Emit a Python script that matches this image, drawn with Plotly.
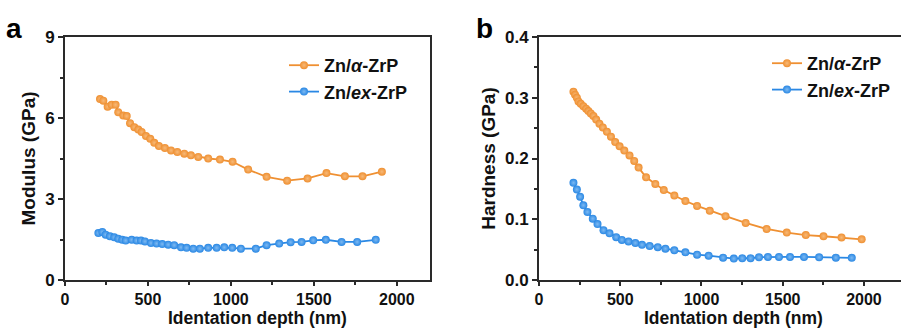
import plotly.graph_objects as go

# Panel a: Modulus
mod_alpha_x = [211, 231, 257, 281, 305, 321, 351, 372, 392, 418, 442, 462, 488, 514, 538, 566, 602, 639,
               677, 719, 759, 803, 863, 934, 1010, 1104, 1215, 1339, 1462, 1576, 1687, 1793, 1910]
mod_alpha_y = [6.70, 6.64, 6.42, 6.49, 6.49, 6.21, 6.09, 6.07, 5.81, 5.66, 5.57, 5.48, 5.33, 5.23, 5.08, 4.96,
               4.89, 4.80, 4.74, 4.68, 4.62, 4.56, 4.50, 4.46, 4.38, 4.09, 3.82, 3.68, 3.76, 3.96, 3.84, 3.84, 4.01]
mod_ex_x = [201, 225, 245, 271, 297, 321, 345, 366, 402, 432, 458, 482, 518, 552, 586, 622, 658, 699, 733,
            773, 813, 863, 914, 960, 1008, 1060, 1150, 1215, 1291, 1360, 1426, 1496, 1572, 1667, 1761, 1873]
mod_ex_y = [1.74, 1.78, 1.68, 1.62, 1.58, 1.53, 1.49, 1.46, 1.49, 1.46, 1.46, 1.43, 1.37, 1.35, 1.33, 1.31,
            1.29, 1.21, 1.19, 1.16, 1.16, 1.19, 1.19, 1.21, 1.19, 1.16, 1.16, 1.29, 1.35, 1.40, 1.41, 1.47,
            1.49, 1.41, 1.41, 1.49]

# Panel b: Hardness
hard_alpha_x = [212, 222, 233, 243, 257, 273, 290, 304, 319, 335, 352, 372, 393, 418, 443, 469, 496, 525,
                557, 586, 613, 659, 716, 768, 833, 901, 973, 1051, 1148, 1272, 1401, 1525, 1642, 1751, 1862, 1986]
hard_alpha_y = [0.310, 0.305, 0.300, 0.294, 0.290, 0.286, 0.282, 0.278, 0.274, 0.270, 0.264, 0.257, 0.251,
                0.244, 0.236, 0.227, 0.220, 0.213, 0.205, 0.196, 0.185, 0.169, 0.158, 0.148, 0.139, 0.130,
                0.122, 0.114, 0.105, 0.094, 0.084, 0.078, 0.074, 0.072, 0.070, 0.067]
hard_ex_x = [212, 233, 253, 273, 298, 331, 360, 397, 434, 475, 510, 551, 593, 634, 681, 731, 778, 833, 901,
             973, 1044, 1133, 1199, 1251, 1302, 1354, 1409, 1477, 1545, 1631, 1724, 1827, 1925]
hard_ex_y = [0.160, 0.149, 0.137, 0.123, 0.112, 0.101, 0.092, 0.082, 0.077, 0.0705, 0.066, 0.0635, 0.061,
             0.058, 0.056, 0.054, 0.0515, 0.049, 0.0456, 0.0417, 0.040, 0.0368, 0.0352, 0.0358, 0.0358,
             0.0375, 0.038, 0.038, 0.038, 0.038, 0.0375, 0.0368, 0.0365]

x_ticks = [0, 500, 1000, 1500, 2000]
mod_ticks = [0, 3, 6, 9]
hard_ticks = [0.0, 0.1, 0.2, 0.3, 0.4]
hard_tick_labels = ["0.0", "0.1", "0.2", "0.3", "0.4"]
x_title = "Identation depth (nm)"

ORANGE = "#EF9032"
BLUE = "#2A88E4"
FONT = "Liberation Sans, Arial, sans-serif"
AX = "#2a2a2a"

fig = go.Figure()


def add(x, y, color, light, name, xa, ya, legend):
    fig.add_trace(go.Scatter(
        x=x, y=y, mode="lines+markers", name=name, xaxis=xa, yaxis=ya, legend=legend,
        line=dict(color=color, width=1.8),
        marker=dict(size=8, color=color, line=dict(width=0),
                    gradient=dict(type="radial", color=light)),
    ))


add(mod_alpha_x, mod_alpha_y, ORANGE, "#F7B978", "Zn/<i>α</i>-ZrP", "x", "y", "legend")
add(mod_ex_x, mod_ex_y, BLUE, "#7DB9F2", "Zn/<i>ex</i>-ZrP", "x", "y", "legend")
add(hard_alpha_x, hard_alpha_y, ORANGE, "#F7B978", "Zn/<i>α</i>-ZrP", "x2", "y2", "legend2")
add(hard_ex_x, hard_ex_y, BLUE, "#7DB9F2", "Zn/<i>ex</i>-ZrP", "x2", "y2", "legend2")

tickfont = dict(family=FONT, size=17, color="#111", weight="bold")
xtickfont = dict(family=FONT, size=16, color="#111", weight="bold")
ytitlefont = dict(family=FONT, size=19, color="#111", weight="bold")
xtitlefont = dict(family=FONT, size=17.5, color="#111", weight="bold")

common_x = dict(
    showline=True, linecolor=AX, linewidth=2, ticks="outside", ticklen=4, tickwidth=1.5, tickcolor=AX,
    tickvals=x_ticks, showgrid=False, zeroline=False, tickfont=xtickfont, automargin=False,
    minor=dict(ticks="outside", ticklen=3, tickwidth=1.5, tickcolor=AX, dtick=250, showgrid=False),
)
common_y = dict(
    showline=True, linecolor=AX, linewidth=2, ticks="outside", ticklen=5, tickwidth=1.5, tickcolor=AX,
    showgrid=False, zeroline=False, tickfont=tickfont, automargin=False,
)

y0, y1 = 1 - 280 / 329, 1 - 37 / 329

fig.update_layout(
    width=901, height=329, margin=dict(l=0, r=0, t=0, b=0, autoexpand=False),
    paper_bgcolor="white", plot_bgcolor="white",
    font=dict(family=FONT),
    xaxis=dict(**common_x, domain=[65 / 901, 430 / 901], range=[0, 2200], mirror=True, anchor="y"),
    yaxis=dict(**common_y, domain=[y0, y1], range=[0, 9], tickvals=mod_ticks, mirror=True, anchor="x",
               minor=dict(ticks="outside", ticklen=3, tickwidth=1.5, tickcolor=AX, dtick=1.5, showgrid=False),
               title=dict(text="Modulus (GPa)", font=ytitlefont, standoff=4)),
    xaxis2=dict(**common_x, domain=[539 / 901, 1.0], range=[0, 2228], mirror=True, anchor="y2"),
    yaxis2=dict(**common_y, domain=[y0, y1], range=[0, 0.4], tickvals=hard_ticks, ticktext=hard_tick_labels,
                mirror=False, anchor="x2",
                minor=dict(ticks="outside", ticklen=3, tickwidth=1.5, tickcolor=AX, dtick=0.05, showgrid=False),
                title=dict(text="Hardness (GPa)", font=ytitlefont, standoff=4)),
    legend=dict(x=284 / 901, y=1 - 47 / 329, xanchor="left", yanchor="top", bgcolor="rgba(0,0,0,0)",
                font=dict(family=FONT, size=18, color="#111", weight="bold"), itemwidth=30,
                tracegroupgap=0),
    legend2=dict(x=767 / 901, y=1 - 45 / 329, xanchor="left", yanchor="top", bgcolor="rgba(0,0,0,0)",
                 font=dict(family=FONT, size=18, color="#111", weight="bold"), itemwidth=30,
                 tracegroupgap=0),
    annotations=[
        dict(text="a", x=14 / 901, y=1 - 29 / 329, xref="paper", yref="paper", showarrow=False,
             font=dict(family=FONT, size=28, color="black", weight="bold"), xanchor="center", yanchor="middle"),
        dict(text="b", x=484 / 901, y=1 - 29 / 329, xref="paper", yref="paper", showarrow=False,
             font=dict(family=FONT, size=28, color="black", weight="bold"), xanchor="center", yanchor="middle"),
        dict(text=x_title, x=257 / 901, y=0, xref="paper", yref="paper", showarrow=False, borderpad=0,
             font=xtitlefont, xanchor="center", yanchor="bottom"),
        dict(text=x_title, x=733 / 901, y=0, xref="paper", yref="paper", showarrow=False, borderpad=0,
             font=xtitlefont, xanchor="center", yanchor="bottom"),
    ],
)

fig.write_html("out.html")
